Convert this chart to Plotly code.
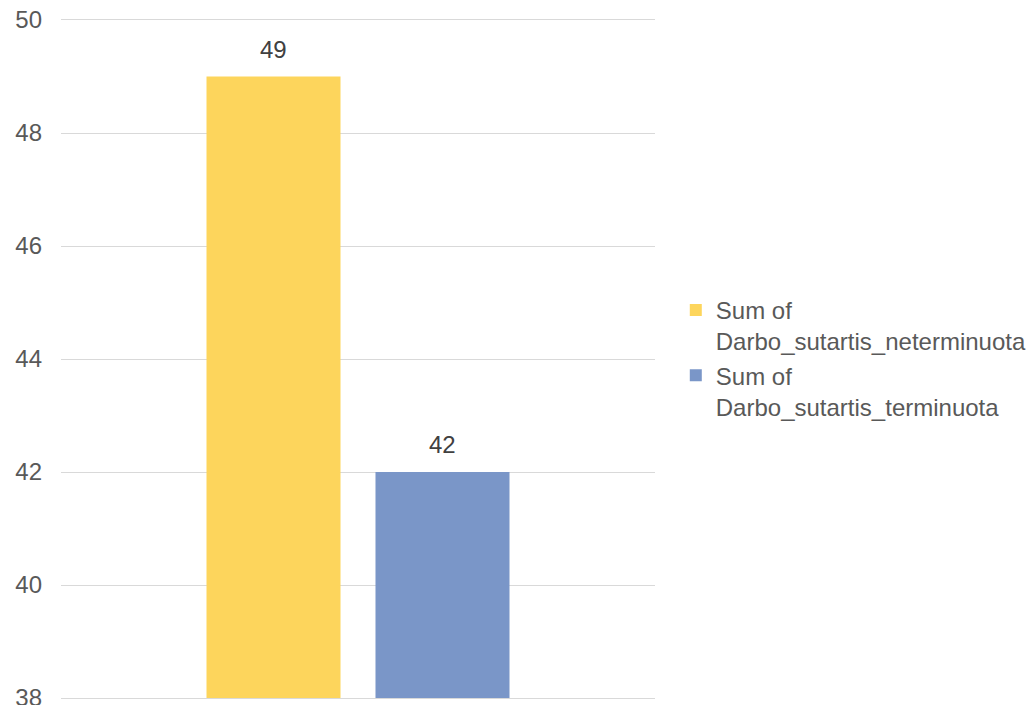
import plotly.graph_objects as go

categories = ["Total"]
series_names = ["Sum of<br>Darbo_sutartis_neterminuota", "Sum of<br>Darbo_sutartis_terminuota"]
series_values = [[49], [42]]
series_colors = ["#FDD55C", "#7A96C8"]
y_ticks = [38, 40, 42, 44, 46, 48, 50]

FONT = "Liberation Sans, Arial, sans-serif"
GRID = "#D9D9D9"

fig = go.Figure()
for i, (name, vals, col) in enumerate(zip(series_names, series_values, series_colors)):
    fig.add_trace(go.Bar(
        x=categories, y=vals, name=name, marker_color=col, marker_line_width=0,
        legendgroup=f"g{i}", offsetgroup=str(i),
        textposition="none", hoverinfo="y",
    ))

# data labels above bars (positioned by the data values)
n = len(series_values)
for i, vals in enumerate(series_values):
    for c, v in zip(categories, vals):
        fig.add_annotation(
            x=c, y=v, text=str(v), showarrow=False, yanchor="bottom",
            xshift=(i - (n - 1) / 2) * 169, yshift=12,
            font=dict(size=24, color="#404040", family=FONT),
        )

fig.update_layout(
    width=1028, height=705,
    paper_bgcolor="white", plot_bgcolor="white",
    margin=dict(l=61, r=373, t=20, b=7, autoexpand=False),
    barmode="group", bargap=0.431, bargroupgap=0.207,
    font=dict(family=FONT, size=24, color="#595959"),
    showlegend=True,
    legend=dict(x=1.035, y=0.605, xanchor="left", yanchor="top",
                font=dict(size=24, color="#595959", family=FONT),
                valign="top", tracegroupgap=14, traceorder="normal"),
    xaxis=dict(showticklabels=False, showgrid=False, zeroline=False,
               showline=True, mirror=True, linecolor=GRID, linewidth=1),
    yaxis=dict(range=[38, 50], tickvals=y_ticks, showgrid=True, gridcolor=GRID,
               gridwidth=1, zeroline=False, showline=False, ticks="",
               ticklabeloverflow="allow",
               tickfont=dict(size=24, color="#595959", family=FONT), ticklabelstandoff=18),
)

fig.write_html(
    "out.html",
    config={"displayModeBar": False},
    post_script="document.body.style.margin='0';document.body.style.overflow='hidden';",
)
